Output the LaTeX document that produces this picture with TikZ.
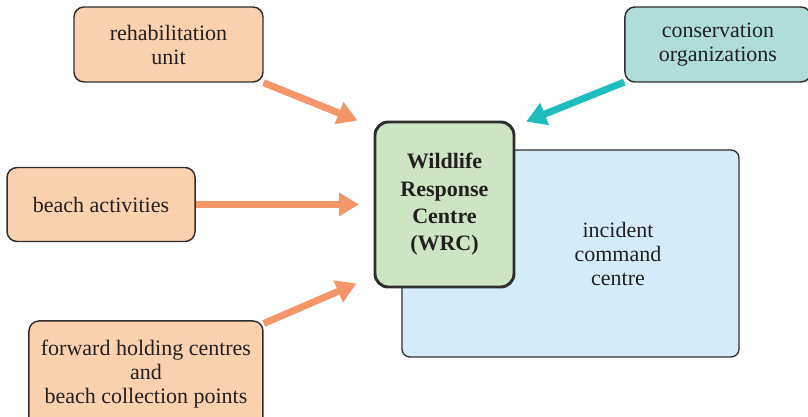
\documentclass[tikz,border=0pt]{standalone}
\usepackage{fontspec}
\setmainfont{Liberation Serif}
\usetikzlibrary{arrows.meta,positioning}
\definecolor{peach}{HTML}{FBD1AE}
\definecolor{tealbox}{HTML}{AFDEDA}
\definecolor{tealarrow}{HTML}{1FBDBE}
\definecolor{orangearrow}{HTML}{F4956A}
\definecolor{wrcgreen}{HTML}{CDE5C4}
\definecolor{iccblue}{HTML}{D5ECF8}
\definecolor{boxline}{HTML}{2E2E2E}
\definecolor{txtgray}{HTML}{231F20}
\tikzset{every node/.style={font=\fontsize{16.5}{18}\selectfont, text=txtgray},
srcbox/.style={draw=boxline, line width=1.1pt, rounded corners=7.5pt,
  align=center, inner sep=0pt},
inflow/.style={line width=5.25pt, draw=orangearrow},
tealflow/.style={line width=5.25pt, draw=tealarrow}
}

\begin{document}
\begin{tikzpicture}[x=0.75pt, y=-0.75pt, > = {Triangle[length=15pt,width=17pt]}, on grid]
    \useasboundingbox (0,0) rectangle (808,417);
    \node[srcbox, fill=iccblue, rounded corners=6pt, line width=1pt,
          minimum width=252.75pt, minimum height=155.25pt] (icc) at (570.5,253.5) {};
    \node[srcbox, fill=wrcgreen, line width=2.2pt, rounded corners=10pt,
          minimum width=104.25pt, minimum height=123.75pt,
          font=\fontsize{16.5}{20.5}\selectfont\bfseries]
          (wrc) [above left=36.75pt and 94.5pt of icc] {Wildlife\\Response\\Centre\\(WRC)};
    \node (icctext) [right=35.6pt of icc] [align=center] {incident\\command\\centre};

    \node[srcbox, fill=peach, minimum width=141.75pt, minimum height=56.25pt]
          (rehab) [above left=120pt and 207pt of wrc] {rehabilitation\\unit};
    \node[srcbox, fill=peach, minimum width=141pt, minimum height=55.5pt]
          (beach) [left=257.6pt of wrc] {beach activities};
    \node[srcbox, fill=peach, minimum width=175.5pt, minimum height=79.5pt]
          (fwd) [below left=127.1pt and 223.9pt of wrc] {forward holding centres\\and\\beach collection points};
    \node[srcbox, fill=tealbox, minimum width=139.5pt, minimum height=56.25pt]
          (cons) [above right=120pt and 205.1pt of wrc] {conservation\\organizations};

    \coordinate (tip_r) at ([xshift=-12pt]wrc.north west);
    \coordinate (tip_b) at ([xshift=-11pt]wrc.west);
    \coordinate (tip_f) at ([xshift=-12.75pt,yshift=3.75pt]wrc.south west);
    \coordinate (tip_c) at ([xshift=8pt,yshift=-0.75pt]wrc.north east);

    \path[->] (rehab) edge [inflow]   (tip_r)
              (beach) edge [inflow]   (tip_b)
              (fwd)   edge [inflow]   (tip_f)
              (cons)  edge [tealflow] (tip_c);
\end{tikzpicture}
\end{document}
